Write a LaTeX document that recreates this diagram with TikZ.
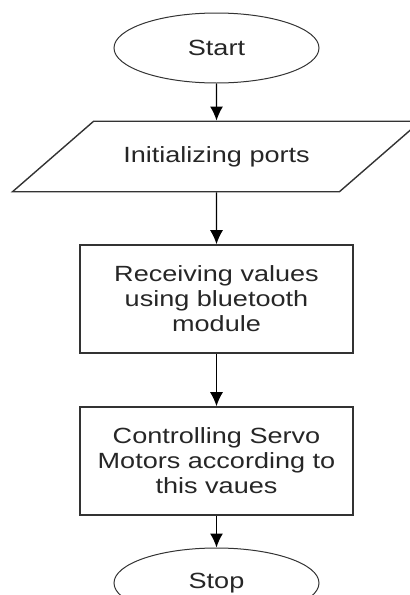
\documentclass[tikz,border=0pt]{standalone}
\usepackage{fontspec}
\setmainfont{Liberation Sans}[FakeStretch=1.23]
\usepackage{tikz}
\usetikzlibrary{shapes,arrows.meta}
\tikzstyle{terminal} = [ellipse, draw=black!80, line width=1pt,
    minimum width=205pt, minimum height=70pt]
\tikzstyle{io} = [trapezium, draw=black!80, line width=1.4pt,
    trapezium left angle=41, trapezium right angle=139, trapezium stretches body=true,
    inner ysep=25pt, minimum width=408pt]
\tikzstyle{block} = [rectangle, draw=black!80, line width=1.6pt, align=center,
    minimum width=273pt, minimum height=108pt]
\tikzstyle{line} = [draw, line width=1.3pt, -{Latex[length=14pt,width=13pt]}]

\begin{document}
\begin{tikzpicture}[font=\fontsize{22}{25}\selectfont, text=black!85]
      \useasboundingbox (0,0) rectangle (410pt,-595pt);
      \node [terminal] (start) at (216.5pt,-48pt) {Start};
      \node [io, below of=start, node distance=108.5pt] (ports) {Initializing ports};
      \node [block, below of=ports, node distance=142.5pt] (receive)
         {Receiving values\\using bluetooth\\module};
      \node [block, below of=receive, node distance=162pt] (servo)
         {Controlling Servo\\Motors according to\\this vaues};
      \node [terminal, below of=servo, node distance=122pt] (stop) {Stop};

      \path [line] (start) -- (ports);
      \path [line] (ports) -- (receive);
      \path [line] (receive) -- (servo);
      \path [line] (servo) -- (stop);
   \end{tikzpicture}
\end{document}
